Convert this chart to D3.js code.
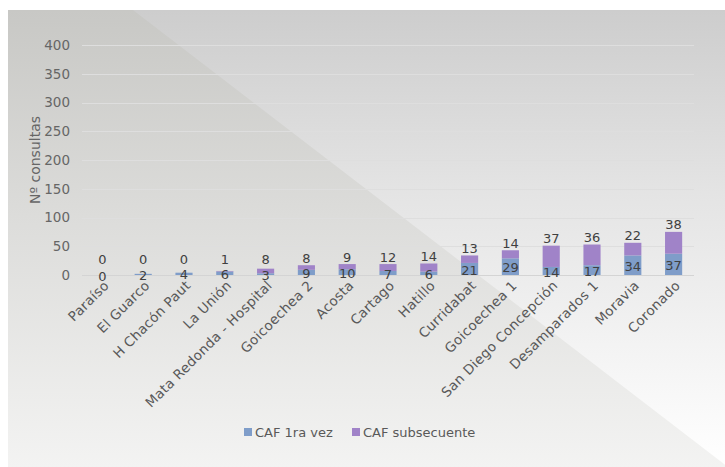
<!DOCTYPE html>
<html>
<head>
<meta charset="utf-8">
<script src="https://cdn.jsdelivr.net/npm/d3@7"></script>
<style>
  body { margin: 0; background: #ffffff; }
  svg { display: block; font-family: "DejaVu Sans", sans-serif; }
</style>
</head>
<body>
<svg id="chart" width="725" height="467"></svg>
<script>
// categories and the two stacked series
var categories = ["Paraíso", "El Guarco", "H Chacón Paut", "La Unión", "Mata Redonda - Hospital",
    "Goicoechea 2", "Acosta", "Cartago", "Hatillo", "Curridabat", "Goicoechea 1",
    "San Diego Concepción", "Desamparados 1", "Moravia", "Coronado"];
var cafPrimera = [0, 2, 4, 6, 3, 9, 10, 7, 6, 21, 29, 14, 17, 34, 37];
var cafSubsecuente = [0, 0, 0, 1, 8, 8, 9, 12, 14, 13, 14, 37, 36, 22, 38];
var seriesNames = ["CAF 1ra vez", "CAF subsecuente"];
var yTicks = [0, 50, 100, 150, 200, 250, 300, 350, 400];

var WIDTH = 725, HEIGHT = 467;
var MARGINS = { left: 82, right: 31, top: 45, bottom: 192 };
var colors = ["#7f9dc9", "#a083c8"];

var svg = d3.select("#chart");
var defs = svg.append("defs");

/**
 * background: two grey gradients split by a diagonal
 */
var g1 = defs.append("linearGradient").attr("id", "bgRight")
    .attr("x1", 0).attr("y1", 0).attr("x2", 0).attr("y2", 1);
g1.append("stop").attr("offset", "0%").attr("stop-color", "#cdcdcd");
g1.append("stop").attr("offset", "40%").attr("stop-color", "#e4e4e4");
g1.append("stop").attr("offset", "100%").attr("stop-color", "#ffffff");

var g2 = defs.append("linearGradient").attr("id", "bgLeft")
    .attr("x1", 0).attr("y1", 0).attr("x2", 0).attr("y2", 1);
g2.append("stop").attr("offset", "0%").attr("stop-color", "#c8c8c5");
g2.append("stop").attr("offset", "45%").attr("stop-color", "#dcdcda");
g2.append("stop").attr("offset", "100%").attr("stop-color", "#f3f3f2");

svg.append("rect")
    .attr("x", 8).attr("y", 10)
    .attr("width", WIDTH - 8).attr("height", HEIGHT - 10)
    .attr("fill", "url(#bgRight)");

svg.append("path")
    .attr("d", "M8,10 L133,10 L728,467 L8,467 Z")
    .attr("fill", "url(#bgLeft)");

/**
 * scales
 */
var xRange = d3.scaleBand()
    .domain(categories)
    .range([MARGINS.left, WIDTH - MARGINS.right])
    .paddingInner(0.58)
    .paddingOuter(0.29);

var yRange = d3.scaleLinear()
    .domain([0, 400])
    .range([HEIGHT - MARGINS.bottom, MARGINS.top]);

// gridlines
svg.append("g")
    .selectAll("line")
    .data(yTicks)
    .enter().append("line")
    .attr("x1", MARGINS.left)
    .attr("x2", WIDTH - MARGINS.right)
    .attr("y1", function (d) { return Math.round(yRange(d)) + 0.5; })
    .attr("y2", function (d) { return Math.round(yRange(d)) + 0.5; })
    .attr("stroke", function (d) { return d === 0 ? "#d4d4d4" : "#dedede"; })
    .attr("stroke-width", 1);

// y axis labels
var yAxis = d3.axisLeft(yRange).tickValues(yTicks).tickSize(0).tickPadding(12);
var y2 = svg.append("g")
    .attr("class", "yaxis")
    .attr("transform", "translate(" + MARGINS.left + ",0)")
    .call(yAxis);
y2.select(".domain").remove();
y2.selectAll("text")
    .attr("fill", "#666666")
    .style("font-size", "13.5px")
    .style("font-family", "DejaVu Sans, sans-serif");

svg.append("text")
    .attr("class", "ylabel")
    .attr("text-anchor", "middle")
    .attr("transform", "translate(40," + 160 + ") rotate(-90)")
    .attr("fill", "#666666")
    .style("font-size", "14px")
    .text("Nº consultas");

/**
 * stacked bars
 */
var rows = categories.map(function (c, i) {
    return { cat: c, a: cafPrimera[i], b: cafSubsecuente[i] };
});
var stack = d3.stack().keys(["a", "b"]);
var layers = stack(rows);

svg.append("g")
    .selectAll("g")
    .data(layers)
    .enter().append("g")
    .attr("fill", function (d, i) { return colors[i]; })
    .selectAll("rect")
    .data(function (d) { return d; })
    .enter().append("rect")
    .attr("x", function (d) { return xRange(d.data.cat); })
    .attr("width", xRange.bandwidth())
    .attr("y", function (d) { return yRange(d[1]); })
    .attr("height", function (d) { return yRange(d[0]) - yRange(d[1]); });

// data labels: first series centred in its segment
svg.append("g")
    .selectAll("text")
    .data(layers[0])
    .enter().append("text")
    .attr("x", function (d) { return xRange(d.data.cat) + xRange.bandwidth() / 2; })
    .attr("y", function (d) { return (yRange(d[0]) + yRange(d[1])) / 2 + 1; })
    .attr("dy", "0.35em")
    .attr("text-anchor", "middle")
    .attr("fill", "#404040")
    .style("font-size", "13px")
    .text(function (d) { return d.data.a; });

// second series above the stack
svg.append("g")
    .selectAll("text")
    .data(layers[1])
    .enter().append("text")
    .attr("x", function (d) { return xRange(d.data.cat) + xRange.bandwidth() / 2; })
    .attr("y", function (d) { return Math.min(yRange(d[1]) - 7, yRange(0) - 16); })
    .attr("dy", "0.35em")
    .attr("text-anchor", "middle")
    .attr("fill", "#404040")
    .style("font-size", "13px")
    .text(function (d) { return d.data.b; });

/**
 * x axis labels, rotated
 */
svg.append("g")
    .attr("class", "xaxis")
    .selectAll("text")
    .data(categories)
    .enter().append("text")
    .attr("transform", function (d) {
        return "translate(" + (xRange(d) + xRange.bandwidth() / 2 + 4) + "," + (yRange(0) + 8) + ") rotate(-45)";
    })
    .attr("text-anchor", "end")
    .attr("dy", "0.35em")
    .attr("fill", "#595959")
    .style("font-size", "13.5px")
    .style("letter-spacing", "0.3px")
    .text(function (d) { return d; });

/**
 * legend
 */
var legend = svg.append("g").attr("class", "legend");
var legendX = [244, 352];
seriesNames.forEach(function (name, i) {
    legend.append("rect")
        .attr("x", legendX[i]).attr("y", 428)
        .attr("width", 8).attr("height", 8)
        .attr("fill", colors[i]);
    legend.append("text")
        .attr("x", legendX[i] + 11).attr("y", 432)
        .attr("dy", "0.35em")
        .attr("fill", "#595959")
        .style("font-size", "13px")
        .text(name);
});
</script>
</body>
</html>
